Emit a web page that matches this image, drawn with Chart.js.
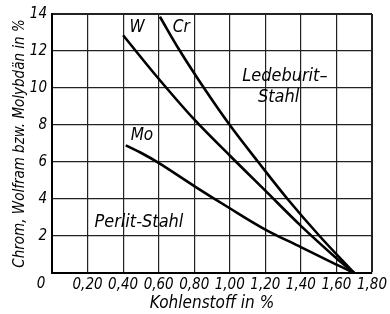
<!DOCTYPE html>
<html>
<head>
<meta charset="utf-8">
<script src="https://cdn.jsdelivr.net/npm/chart.js@4/dist/chart.umd.min.js"></script>
<style>
  html, body { margin: 0; padding: 0; background: #fff; }
  #wrap { width: 390px; height: 314px; }
</style>
</head>
<body>
<div id="wrap"><canvas id="c" width="390" height="314"></canvas></div>
<script>
// ---- data ----
const xTicks = [0, 0.2, 0.4, 0.6, 0.8, 1.0, 1.2, 1.4, 1.6, 1.8];
const yTicks = [0, 2, 4, 6, 8, 10, 12, 14];

const wX  = [0.40, 0.60, 0.80, 1.00, 1.20, 1.40, 1.60, 1.70];
const wY  = [12.85, 10.5, 8.3, 6.35, 4.45, 2.55, 0.8, 0];

const crX = [0.607, 0.72, 0.855, 1.00, 1.16, 1.325, 1.505, 1.70];
const crY = [13.85, 12, 10, 8, 6, 4, 2, 0];

const moX = [0.415, 0.50, 0.60, 0.80, 1.00, 1.20, 1.40, 1.60, 1.70];
const moY = [6.9, 6.5, 5.95, 4.7, 3.5, 2.35, 1.4, 0.45, 0];

const labelTexts = ['W', 'Cr', 'Mo', 'Ledeburit–', 'Stahl', 'Perlit-Stahl'];
const labelX     = [0.478, 0.727, 0.506, 1.31, 1.275, 0.489];
const labelY     = [13.25, 13.25, 7.44, 10.65, 9.47, 2.72];
const labelSize  = [17, 17, 17, 18, 18, 18];

const xTitle = 'Kohlenstoff in %';
const yTitle = 'Chrom, Wolfram bzw. Molybdän in %';
// ---------------------------------------

const FAM = "'Liberation Sans Narrow', 'DejaVu Sans Condensed', 'Arial Narrow', sans-serif";
const pts = (xs, ys) => xs.map((x, i) => ({x: x, y: ys[i]}));

const fmtX = v => (Math.abs(v) < 1e-9 ? '' : v.toFixed(2).replace('.', ','));

const labelsPlugin = {
  id: 'textLabels',
  afterDatasetsDraw(chart) {
    const {ctx, scales: {x, y}, chartArea} = chart;
    ctx.save();
    ctx.fillStyle = '#000';
    ctx.textAlign = 'center';
    ctx.textBaseline = 'middle';
    labelTexts.forEach((t, i) => {
      ctx.font = 'italic ' + labelSize[i] + 'px ' + FAM;
      ctx.fillText(t, x.getPixelForValue(labelX[i]), y.getPixelForValue(labelY[i]));
    });
    // shared origin label
    ctx.font = 'italic 15px ' + FAM;
    ctx.fillText('0', x.getPixelForValue(0) - 11, chartArea.bottom + 11);
    ctx.restore();
  }
};

const gridWidth = (ctx, max) => (ctx.tick && Math.abs(ctx.tick.value - max) < 1e-9 ? 2 : 1.2);

new Chart(document.getElementById('c'), {
  type: 'line',
  data: {
    datasets: [
      { label: 'W',  data: pts(wX, wY) },
      { label: 'Cr', data: pts(crX, crY) },
      { label: 'Mo', data: pts(moX, moY) }
    ].map(d => Object.assign(d, {
      borderColor: '#000', borderWidth: 2.6, pointRadius: 0,
      tension: 0.35, fill: false
    }))
  },
  options: {
    responsive: false,
    animation: false,
    devicePixelRatio: 1,
    layout: { padding: { top: 14, right: 13, left: 0, bottom: 0 } },
    plugins: { legend: { display: false }, tooltip: { enabled: false } },
    scales: {
      x: {
        type: 'linear', min: 0, max: 1.8,
        afterBuildTicks: s => { s.ticks = xTicks.map(v => ({value: v})); },
        afterFit: s => { s.height = 41; },
        ticks: { callback: v => fmtX(v), color: '#000', padding: 3, maxRotation: 0, autoSkip: false,
                 font: { family: FAM, size: 15, style: 'italic' } },
        grid: { color: '#222', lineWidth: c => gridWidth(c, 1.8), drawTicks: false },
        border: { color: '#000', width: 2 },
        title: { display: true, text: xTitle, color: '#000', padding: { top: 0, bottom: 0 },
                 font: { family: FAM, size: 17, style: 'italic' } }
      },
      y: {
        type: 'linear', min: 0, max: 14,
        afterBuildTicks: s => { s.ticks = yTicks.map(v => ({value: v})); },
        afterFit: s => { s.width = 52; },
        ticks: { callback: v => (v === 0 ? '' : String(v)), color: '#000', padding: 5, autoSkip: false,
                 font: { family: FAM, size: 15, style: 'italic' } },
        grid: { color: '#222', lineWidth: c => gridWidth(c, 14), drawTicks: false },
        border: { color: '#000', width: 2 },
        title: { display: true, text: yTitle, color: '#000', padding: { top: 11, bottom: 0 },
                 font: { family: FAM, size: 15, style: 'italic' } }
      }
    }
  },
  plugins: [labelsPlugin]
});
</script>
</body>
</html>
